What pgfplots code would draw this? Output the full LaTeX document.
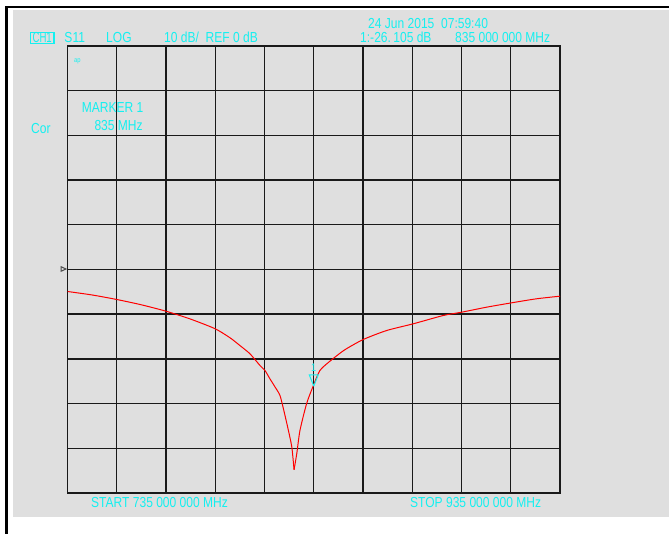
\documentclass[border=0pt]{standalone}
\usepackage{pgfplots}
\pgfplotsset{compat=1.18}
\usepackage{fontspec}
\setmainfont{Liberation Sans}
\newfontfamily\vna[FakeStretch=0.83]{Liberation Sans}
\definecolor{scrgray}{RGB}{223,223,223}
\definecolor{vnacyan}{RGB}{20,240,240}
\definecolor{gridblk}{RGB}{25,25,25}

% S11 trace: frequency (MHz), magnitude (dB), split at the dip
\pgfplotstableread{
f      db
735    -4.92
745    -5.70
755    -6.71
765    -7.90
775    -9.33
785    -11.10
795    -13.27
801    -15.28
805    -17.00
809.1  -18.86
813.2  -21.50
815.2  -22.60
817.2  -24.45
819.3  -26.30
821.3  -28.20
823.0  -31.90
824.7  -36.00
826.1  -39.75
827.0  -44.80
}\traceleft
\pgfplotstableread{
f      db
827.0  -44.80
828.1  -41.20
829.4  -36.00
832.1  -30.00
834.6  -26.30
837.5  -22.60
841.6  -20.50
847.5  -18.00
855.1  -15.66
864.6  -13.65
875.4  -12.15
887.6  -10.29
895.1  -9.55
905.2  -8.43
915.4  -7.45
925.5  -6.55
935    -5.97
}\traceright

\begin{document}
\begin{tikzpicture}
  \begin{scope}[x=1bp,y=1bp]
    \useasboundingbox (0,0) rectangle (669,534);
    \fill[white] (0,0) rectangle (669,534);
    \fill[scrgray] (12.5,17) rectangle (669,523.5);
    \draw[black, line width=2.5bp] (6.3,0) -- (6.3,527) -- (669,527);
  \end{scope}

  \begin{axis}[
    at={(67.5bp,41bp)}, anchor=south west,
    scale only axis,
    width=492.5bp, height=447bp,
    xmin=735, xmax=935,
    ymin=-50, ymax=50,
    xtick={735,755,...,935},
    ytick={-50,-40,...,50},
    xticklabels={}, yticklabels={},
    tick style={draw=none},
    grid=major,
    grid style={gridblk, line width=1.4bp},
    axis line style={gridblk, line width=1.8bp},
  ]
    \addplot[red, line width=1bp, smooth, tension=0.4] table[x=f, y=db] {\traceleft};
    \addplot[red, line width=1bp, smooth, tension=0.4] table[x=f, y=db] {\traceright};
    % marker 1 at 835 MHz
    \addplot[vnacyan, line width=1bp] coordinates {
      (835,-26.1) (833.2,-23.6) (836.8,-23.6) (835,-26.1)};
    \node[vnacyan, inner sep=0pt, font=\vna\fontsize{11bp}{12bp}\selectfont]
      at (axis cs:835,-22.0) {1};
  \end{axis}

  \begin{scope}[x=1bp,y=1bp]
    % reference level marker
    \draw[black!70, line width=1bp] (61,267.3) -- (66,265) -- (61,262.7) -- cycle;
  \end{scope}

  \begin{scope}[x=1bp,y=1bp,
      every node/.style={inner sep=0pt, anchor=base west, text=vnacyan,
      font=\vna\fontsize{14.5bp}{16bp}\selectfont}]
    \draw[vnacyan, line width=1.2bp] (30.5,490.7) rectangle (54,501.3);
    \node[anchor=base, xscale=0.8] at (42.2,491) {CH1};
    \node at (64.3,491) {S11};
    \node at (106,491) {LOG};
    \node at (164,491) {10 dB/\ \ REF 0 dB};
    \node at (368,505.7) {24 Jun 2015\ \ 07:59:40};
    \node at (360,491) {1:-26.\,105 dB};
    \node at (455,491) {835 000 000 MHz};
    \node at (81.7,421.3) {MARKER 1};
    \node at (94.3,403.3) {835 MHz};
    \node at (31,400.7) {Cor};
    \node[font=\vna\fontsize{7bp}{7bp}\selectfont] at (74,471) {ap};
    \node at (91,26.8) {START 735 000 000 MHz};
    \node at (410,26.8) {STOP 935 000 000 MHz};
  \end{scope}
\end{tikzpicture}
\end{document}
